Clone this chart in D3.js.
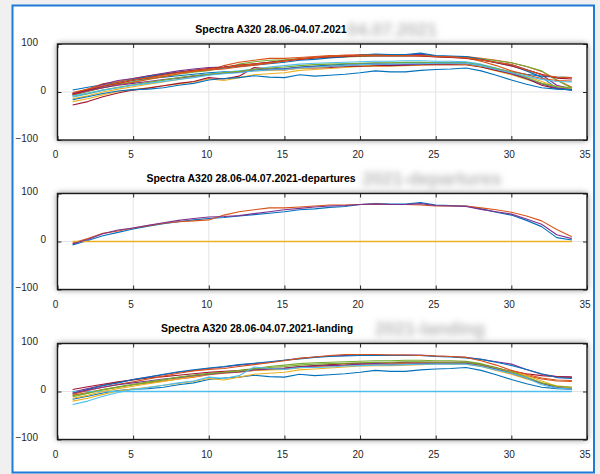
<!DOCTYPE html>
<html>
<head>
<meta charset="utf-8">
<script src="https://cdn.jsdelivr.net/npm/d3@7"></script>
<style>
  body { margin: 0; background: #f0f0f0; }
  svg { display: block; font-family: "Liberation Sans", Arial, sans-serif; }
  .axis text { font-size: 10px; fill: #262626; }
  .axis line { stroke: #262626; }
  .title { font-size: 10.5px; font-weight: bold; fill: #000; }
  .ghost { font-size: 18px; font-weight: bold; fill: #b8b8b8; }
</style>
</head>
<body>
<svg id="chart" width="600" height="474"></svg>
<script>
// sample index 1..34
const samples = d3.range(1, 35);
const xTicks = [0, 5, 10, 15, 20, 25, 30, 35];
const yTicks = [-100, 0, 100];

// departures
const dep1 = [-7, 2, 12, 19, 26, 32, 37, 41, 45, 48, 50, 53, 56, 59, 62, 66, 68, 71, 73, 77, 79, 78, 78, 81, 76, 75, 74, 68, 61, 55, 44, 31, 8, 3];
const dep2 = [-3, 6, 17, 22, 28, 33, 38, 41, 43, 45, 55, 62, 66, 70, 70, 72, 74, 76, 76, 77, 78, 77, 77, 76, 74, 74, 74, 70, 66, 61, 53, 43, 25, 10];
const dep3 = [0, 0, 0, 0, 0, 0, 0, 0, 0, 0, 0, 0, 0, 0, 0, 0, 0, 0, 0, 0, 0, 0, 0, 0, 0, 0, 0, 0, 0, 0, 0, 0, 0, 0];
const dep4 = [-5, 4, 16, 24, 28, 34, 39, 44, 48, 51, 52, 54, 58, 62, 66, 69, 72, 74, 75, 77, 78, 77, 77, 79, 75, 74, 73, 67, 62, 57, 47, 36, 14, 6];

// landings
const land1 = [-16, -10, -3, 2, 5, 6, 9, 14, 18, 25, 28, 30, 34, 31, 30, 36, 33, 35, 37, 40, 44, 42, 42, 45, 47, 48, 50, 44, 35, 25, 16, 9, 6, 5];
const land2 = [-8, -2, 4, 9, 14, 18, 22, 26, 30, 35, 38, 40, 44, 46, 47, 50, 52, 54, 55, 57, 58, 58, 59, 59, 60, 60, 60, 55, 47, 40, 33, 26, 22, 21];
const land3 = [-20, -14, -6, 1, 5, 9, 13, 17, 21, 27, 24, 30, 36, 38, 40, 45, 47, 49, 51, 53, 54, 54, 55, 56, 57, 57, 57, 52, 44, 36, 26, 18, 12, 9];
const land4 = [-1, 6, 13, 19, 25, 30, 35, 40, 44, 48, 51, 55, 58, 61, 65, 69, 72, 74, 75, 76, 76, 76, 76, 76, 74, 73, 71, 67, 62, 57, 46, 36, 31, 30];
const land5 = [-11, -4, 3, 9, 14, 19, 24, 29, 34, 38, 41, 44, 48, 52, 55, 58, 60, 61, 62, 63, 64, 64, 65, 65, 64, 64, 63, 58, 50, 40, 28, 17, 10, 7];
const land6 = [0, 0, 0, 0, 0, 0, 0, 0, 0, 0, 0, 0, 0, 0, 0, 0, 0, 0, 0, 0, 0, 0, 0, 0, 0, 0, 0, 0, 0, 0, 0, 0, 0, 0];
const land7 = [4, 10, 15, 20, 24, 28, 31, 34, 37, 40, 42, 43, 46, 48, 49, 52, 54, 56, 58, 59, 60, 60, 61, 61, 61, 61, 61, 56, 49, 42, 37, 33, 31, 30];
const land8 = [-4, 4, 12, 18, 25, 30, 36, 41, 45, 49, 52, 56, 59, 62, 65, 68, 71, 73, 74, 75, 75, 75, 75, 75, 73, 72, 70, 67, 61, 54, 46, 37, 29, 27];
const land9 = [-6, 2, 9, 15, 20, 26, 32, 38, 43, 46, 48, 52, 56, 60, 64, 69, 72, 75, 77, 77, 77, 76, 76, 75, 74, 73, 71, 64, 55, 44, 36, 28, 24, 23];
const land10 = [-14, -8, 0, 6, 11, 16, 21, 26, 31, 36, 40, 42, 44, 45, 46, 49, 51, 53, 55, 56, 57, 58, 58, 59, 59, 59, 58, 54, 48, 41, 33, 22, 11, 6];
const land11 = [-3, 3, 9, 14, 18, 22, 26, 29, 33, 36, 39, 41, 45, 47, 48, 51, 53, 54, 55, 57, 58, 57, 57, 58, 59, 59, 59, 55, 47, 38, 28, 17, 8, 5];
const land12 = [-9, -3, 4, 10, 15, 20, 25, 30, 34, 37, 40, 43, 47, 50, 52, 55, 57, 58, 59, 60, 61, 61, 62, 62, 61, 61, 61, 56, 49, 41, 30, 18, 11, 9];
const land13 = [-27, -20, -10, -2, 4, 8, 13, 18, 22, 30, 27, 33, 51, 48, 46, 50, 50, 51, 53, 54, 55, 55, 56, 57, 57, 57, 57, 52, 45, 38, 28, 14, 7, 5];
// one more flight that only shows in the overall plot
const other1 = [-6, 1, 9, 16, 22, 27, 32, 37, 41, 45, 50, 58, 63, 66, 67, 69, 71, 72, 73, 74, 75, 75, 75, 76, 74, 73, 72, 69, 65, 61, 53, 44, 25, 8];

const matlabColors = ["#0072BD", "#D95319", "#EDB120", "#7E2F8E", "#77AC30", "#4DBEEE", "#A2142F"];

const panels = [
  {
    title: "Spectra A320 28.06-04.07.2021", titleX: 271, ghost: "04.07.2021", ghostX: 392,
    top: 44, series: [land7, dep2, land3, dep4, other1, land5, land13, dep1, land9, land10, land11, land12, land2, land8, land1, land4]
  },
  {
    title: "Spectra A320 28.06-04.07.2021-departures", titleX: 251, ghost: "2021-departures", ghostX: 432,
    top: 193.5, series: [dep1, dep2, dep3, dep4]
  },
  {
    title: "Spectra A320 28.06-04.07.2021-landing", titleX: 257, ghost: "2021-landing", ghostX: 430,
    top: 343.5, series: [land1, land2, land3, land4, land5, land6, land7, land8, land9, land10, land11, land12, land13]
  }
];

const svg = d3.select("#chart");

const defs = svg.append("defs");
defs.append("filter").attr("id", "shadow")
  .attr("x", "-10%").attr("y", "-30%").attr("width", "120%").attr("height", "160%")
  .append("feDropShadow")
  .attr("dx", 0).attr("dy", 0).attr("stdDeviation", 3)
  .attr("flood-color", "#000").attr("flood-opacity", 0.55);
defs.append("filter").attr("id", "blur")
  .attr("x", "-20%").attr("y", "-60%").attr("width", "140%").attr("height", "220%")
  .append("feGaussianBlur").attr("stdDeviation", 3);

// figure frame
svg.append("rect")
  .attr("x", 12.5).attr("y", 5.5).attr("width", 581.5).attr("height", 467)
  .attr("fill", "#fff").attr("stroke", "#1f7bd6").attr("stroke-width", 2);

const left = 57.5, right = 587, h = 96;
const x = d3.scaleLinear().domain([0, 35]).range([left, right]);

panels.forEach((p) => {
  const y = d3.scaleLinear().domain([-100, 100]).range([p.top + h, p.top]);
  const g = svg.append("g");

  // ghost title
  g.append("text").attr("class", "ghost")
    .attr("x", p.ghostX).attr("y", p.top - 8.5)
    .attr("text-anchor", "middle").attr("filter", "url(#blur)")
    .text(p.ghost);

  g.append("text").attr("class", "title")
    .attr("x", p.titleX).attr("y", p.top - 11.3)
    .attr("text-anchor", "middle")
    .text(p.title);

  // axes background with shadow
  g.append("rect")
    .attr("x", left).attr("y", p.top).attr("width", right - left).attr("height", h)
    .attr("fill", "#fff").attr("filter", "url(#shadow)");

  // grid
  const grid = g.append("g").attr("fill", "none");
  grid.selectAll("line.gx").data(xTicks.slice(1, -1)).join("line")
    .attr("class", "gx")
    .attr("x1", (d) => x(d)).attr("x2", (d) => x(d))
    .attr("y1", p.top).attr("y2", p.top + h)
    .style("stroke", "#e4e4e4").style("stroke-width", 1);
  grid.selectAll("line.gy").data([0]).join("line")
    .attr("class", "gy")
    .attr("x1", left).attr("x2", right)
    .attr("y1", (d) => y(d)).attr("y2", (d) => y(d))
    .style("stroke", "#e4e4e4").style("stroke-width", 1);

  // series
  const line = d3.line().x((d, i) => x(samples[i])).y((d) => y(d));
  g.append("g").selectAll("path").data(p.series).join("path")
    .attr("d", line)
    .style("fill", "none")
    .style("stroke", (d, i) => matlabColors[i % matlabColors.length])
    .style("stroke-width", (d) => (d3.max(d) === 0 ? 1.6 : 1.1))
    .style("stroke-linejoin", "round");

  // ticks and labels
  g.append("g").attr("class", "axis")
    .attr("transform", `translate(0,${p.top + h})`)
    .call(d3.axisBottom(x).tickValues(xTicks).tickSize(-4).tickPadding(11))
    .call((a) => a.select(".domain").remove())
    .call((a) => a.selectAll("text").attr("dx", -2.5));
  g.append("g").attr("class", "axis")
    .attr("transform", `translate(0,${p.top})`)
    .call(d3.axisTop(x).tickValues(xTicks).tickSize(-4).tickFormat(""))
    .call((a) => a.select(".domain").remove());
  g.append("g").attr("class", "axis")
    .attr("transform", `translate(${left},0)`)
    .call(d3.axisLeft(y).tickValues(yTicks).tickSize(-4).tickPadding(11.5))
    .call((a) => a.select(".domain").remove())
    .call((a) => a.selectAll("text")
      .attr("dx", (d) => (d === 0 ? 0 : -8))
      .attr("dy", "0.1em"));
  g.append("g").attr("class", "axis")
    .attr("transform", `translate(${right},0)`)
    .call(d3.axisRight(y).tickValues(yTicks).tickSize(-4).tickFormat(""))
    .call((a) => a.select(".domain").remove());

  // box
  g.append("rect")
    .attr("x", left).attr("y", p.top).attr("width", right - left).attr("height", h)
    .attr("fill", "none").attr("stroke", "#1a1a1a").attr("stroke-width", 1.4);
});
</script>
</body>
</html>
